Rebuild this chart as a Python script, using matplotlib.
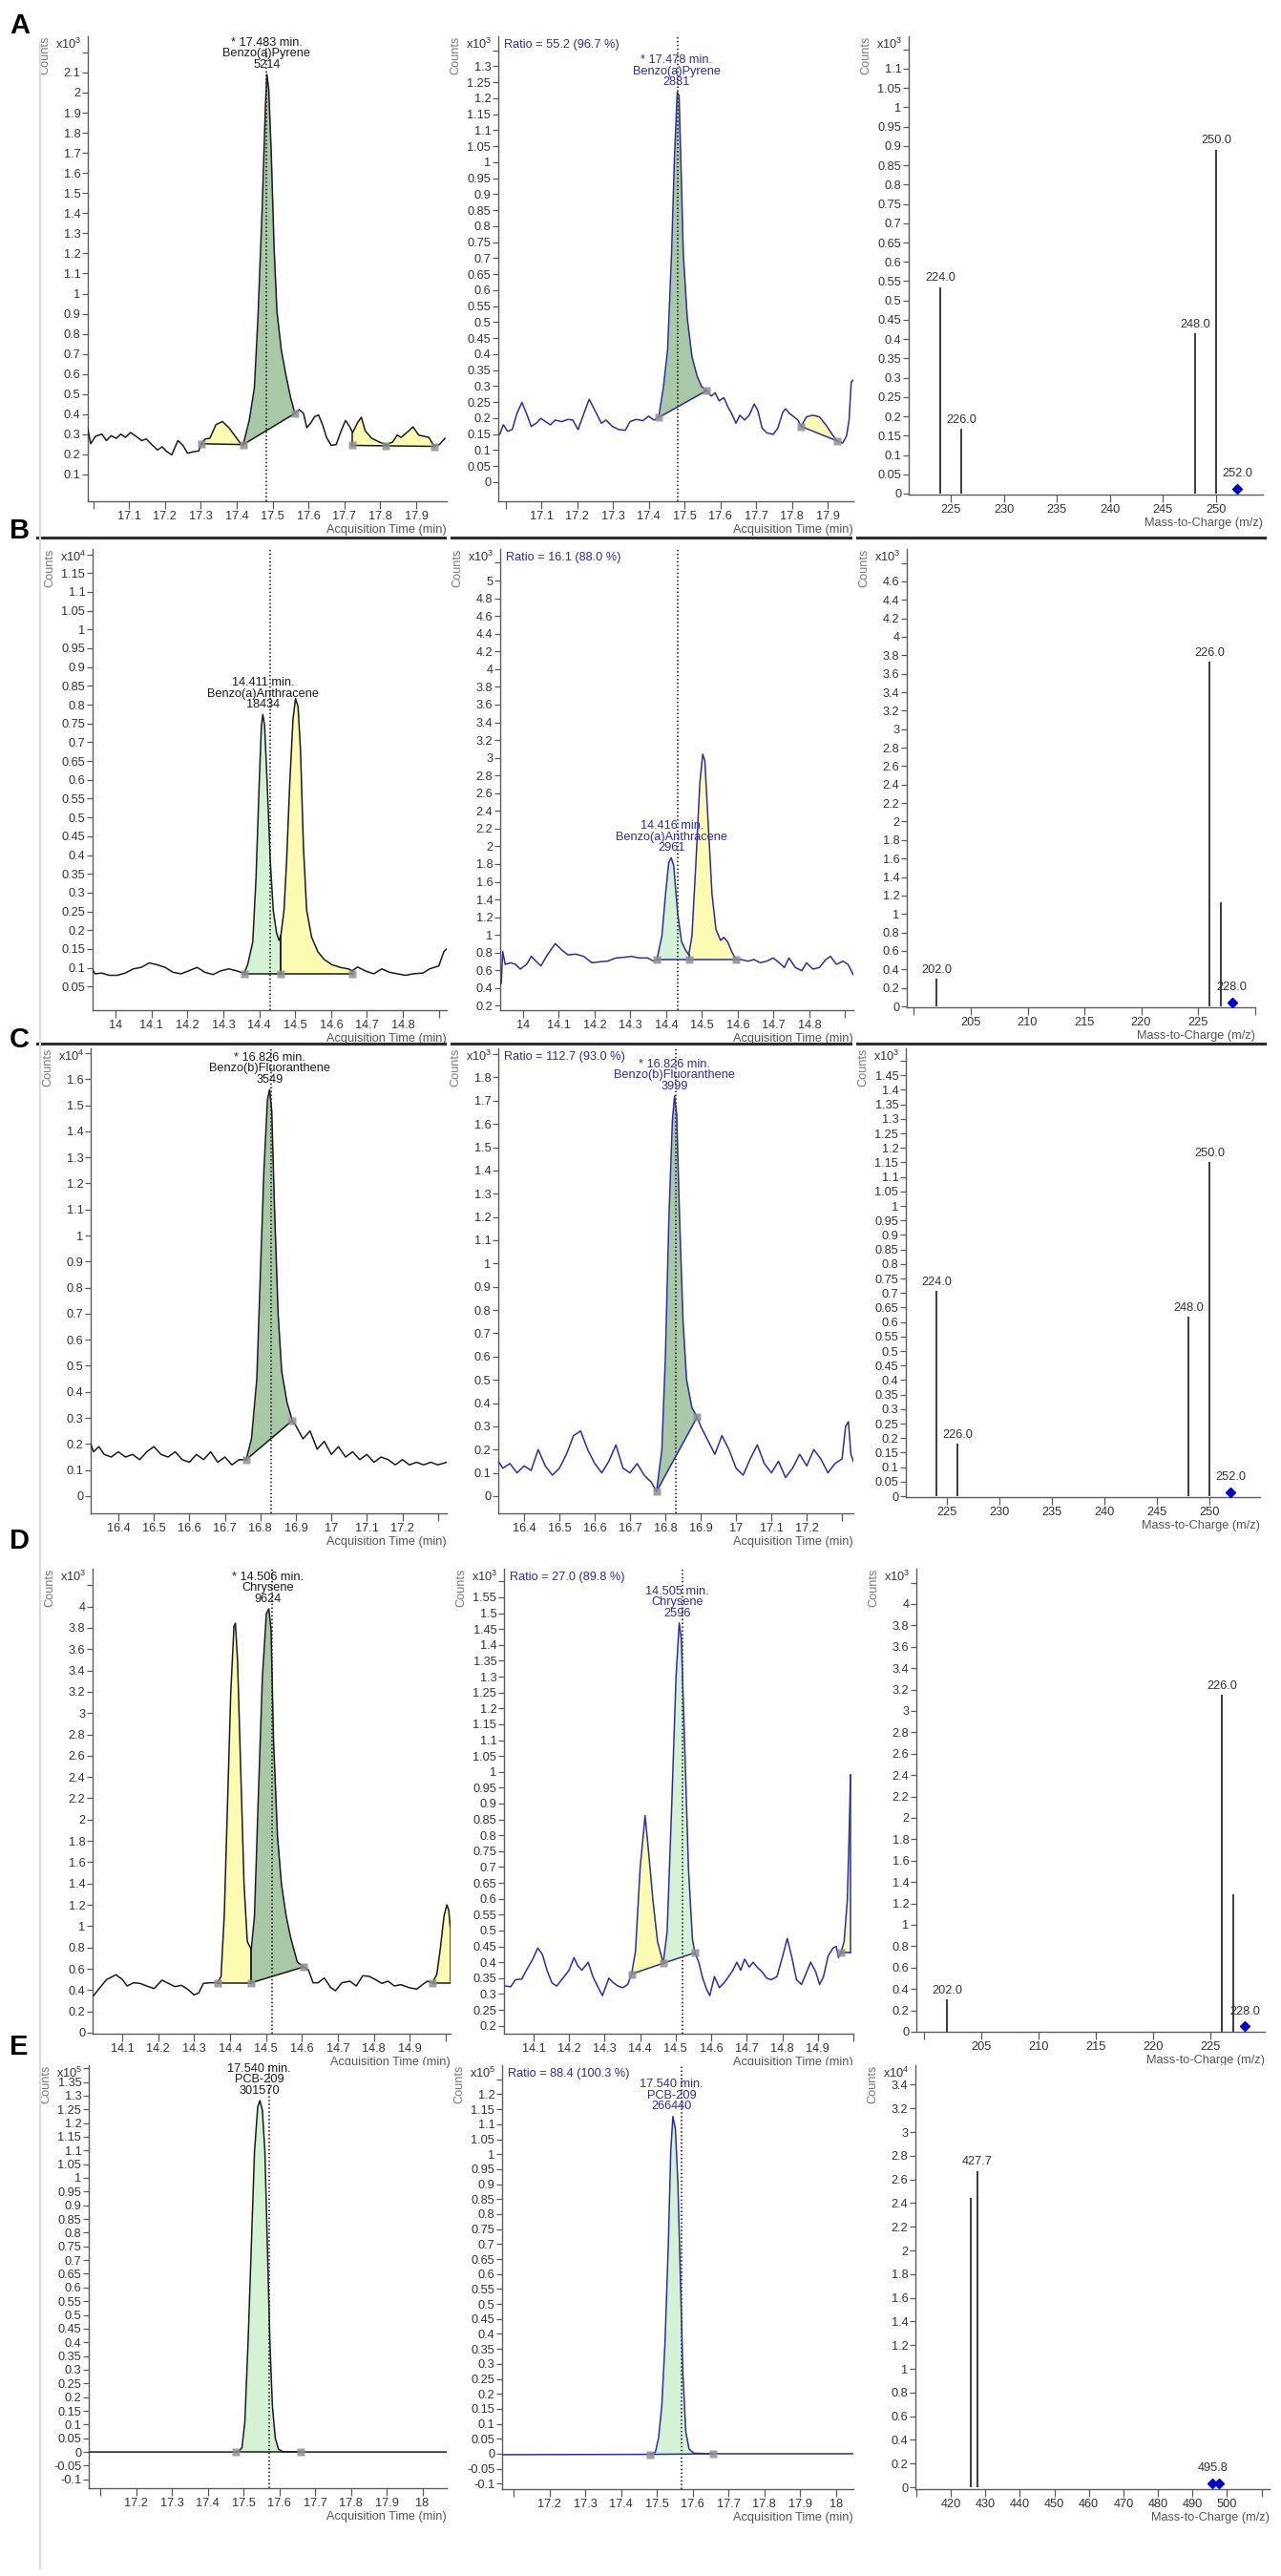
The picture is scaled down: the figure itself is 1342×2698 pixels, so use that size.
import numpy as np
import matplotlib.pyplot as plt
from matplotlib.lines import Line2D

plt.rcParams['font.family'] = ['Liberation Sans', 'DejaVu Sans']
plt.rcParams['mathtext.default'] = 'regular'

W, H = 1342, 2698
FS = 9.2
BLACK = '#1c1c1c'
BLUE = '#2e2ea0'
SAGE = '#a8c8a8'
MINT = '#d6f2d6'
YELLOW = '#fbfbb2'
TXT = '#333333'
AXC = '#5c5c5c'

# ---------------- A: Benzo(a)Pyrene ----------------
a1_trace = [(16.984, 0.333), (16.993, 0.253), (17.006, 0.290), (17.024, 0.301), (17.037, 0.269),
            (17.050, 0.293), (17.064, 0.280), (17.077, 0.301), (17.090, 0.285), (17.104, 0.309),
            (17.117, 0.293), (17.135, 0.269), (17.148, 0.277), (17.161, 0.253), (17.179, 0.222),
            (17.192, 0.238), (17.205, 0.214), (17.219, 0.198), (17.236, 0.269), (17.250, 0.245),
            (17.263, 0.206), (17.281, 0.214), (17.294, 0.217), (17.301, 0.253), (17.312, 0.277),
            (17.325, 0.280), (17.342, 0.348), (17.360, 0.364), (17.378, 0.333), (17.396, 0.290),
            (17.409, 0.258), (17.418, 0.249), (17.435, 0.372), (17.449, 0.530), (17.459, 0.879),
            (17.471, 1.433), (17.480, 1.940), (17.484, 2.090), (17.489, 2.019), (17.496, 1.702),
            (17.504, 1.227), (17.512, 0.911), (17.524, 0.721), (17.537, 0.594), (17.550, 0.483),
            (17.562, 0.404), (17.574, 0.423), (17.586, 0.404), (17.595, 0.333), (17.606, 0.356),
            (17.617, 0.388), (17.628, 0.396), (17.639, 0.348), (17.650, 0.285), (17.663, 0.245),
            (17.677, 0.249), (17.689, 0.309), (17.703, 0.369), (17.714, 0.340), (17.723, 0.309),
            (17.736, 0.356), (17.747, 0.385), (17.758, 0.317), (17.776, 0.280), (17.798, 0.261),
            (17.816, 0.249), (17.834, 0.261), (17.847, 0.296), (17.858, 0.285), (17.879, 0.317),
            (17.891, 0.337), (17.907, 0.296), (17.922, 0.290), (17.935, 0.285), (17.950, 0.240),
            (17.965, 0.250), (17.980, 0.280)]
a1_regions = [(17.301, 17.418, 0.253, 0.249, 'yellow'), (17.418, 17.562, 0.249, 0.404, 'green'),
              (17.723, 17.950, 0.245, 0.240, 'yellow')]
a1_marks = [(17.301, 0.253), (17.418, 0.249), (17.562, 0.404), (17.723, 0.245), (17.816, 0.243), (17.950, 0.240)]
a1_label = '* 17.483 min.\nBenzo(a)Pyrene\n5214'
a1_apex = (17.483, 2.09)
a1_rt = 17.482

a2_trace = [(16.984, 0.149), (16.994, 0.179), (17.006, 0.159), (17.019, 0.164), (17.032, 0.214),
            (17.046, 0.249), (17.059, 0.214), (17.072, 0.174), (17.086, 0.184), (17.099, 0.199),
            (17.112, 0.189), (17.126, 0.179), (17.139, 0.194), (17.157, 0.189), (17.175, 0.196),
            (17.188, 0.194), (17.203, 0.164), (17.219, 0.214), (17.234, 0.259), (17.250, 0.224),
            (17.268, 0.184), (17.281, 0.194), (17.299, 0.174), (17.317, 0.164), (17.335, 0.162),
            (17.348, 0.189), (17.366, 0.196), (17.384, 0.192), (17.400, 0.206), (17.415, 0.194),
            (17.428, 0.202), (17.441, 0.294), (17.453, 0.413), (17.464, 0.711), (17.472, 1.010),
            (17.480, 1.219), (17.485, 1.209), (17.490, 1.010), (17.497, 0.711), (17.508, 0.512),
            (17.521, 0.393), (17.535, 0.333), (17.548, 0.299), (17.562, 0.286), (17.575, 0.269),
            (17.586, 0.279), (17.597, 0.254), (17.610, 0.264), (17.622, 0.234), (17.632, 0.214),
            (17.644, 0.184), (17.655, 0.209), (17.668, 0.194), (17.681, 0.209), (17.695, 0.244),
            (17.705, 0.224), (17.717, 0.169), (17.730, 0.154), (17.748, 0.149), (17.761, 0.169),
            (17.775, 0.219), (17.783, 0.229), (17.794, 0.214), (17.806, 0.204), (17.817, 0.194),
            (17.826, 0.174), (17.841, 0.204), (17.859, 0.209), (17.877, 0.204), (17.895, 0.179),
            (17.913, 0.149), (17.926, 0.129), (17.942, 0.122), (17.953, 0.144), (17.960, 0.194),
            (17.966, 0.313), (17.972, 0.319)]
a2_regions = [(17.428, 17.562, 0.202, 0.286, 'green'), (17.826, 17.926, 0.174, 0.129, 'yellow')]
a2_marks = [(17.428, 0.202), (17.562, 0.286), (17.826, 0.174), (17.926, 0.129)]
a2_label = '* 17.478 min.\nBenzo(a)Pyrene\n2881'
a2_apex = (17.478, 1.219)
a2_rt = 17.481
a2_ratio = 'Ratio = 55.2 (96.7 %)'

a3_mz = [224.0, 226.0, 248.0, 250.0]
a3_counts = [0.534, 0.168, 0.415, 0.890]
a3_labeled = [True, True, True, True]
a3_ref_mz = [252.0]
a3_ref_counts = [0.012]
a3_ref_label = '252.0'

# ---------------- B: Benzo(a)Anthracene ----------------
b1_trace = [(13.934, 0.097), (13.943, 0.084), (13.961, 0.086), (13.983, 0.080), (14.005, 0.080),
            (14.027, 0.086), (14.049, 0.097), (14.071, 0.101), (14.094, 0.113), (14.116, 0.108),
            (14.138, 0.101), (14.160, 0.088), (14.182, 0.084), (14.204, 0.092), (14.227, 0.101),
            (14.249, 0.088), (14.271, 0.082), (14.293, 0.092), (14.315, 0.097), (14.337, 0.092),
            (14.358, 0.085), (14.368, 0.109), (14.382, 0.169), (14.391, 0.338), (14.400, 0.592),
            (14.406, 0.744), (14.410, 0.774), (14.415, 0.744), (14.422, 0.592), (14.431, 0.380),
            (14.439, 0.253), (14.448, 0.194), (14.455, 0.173), (14.460, 0.185), (14.469, 0.253),
            (14.476, 0.380), (14.485, 0.592), (14.494, 0.761), (14.501, 0.816), (14.508, 0.795),
            (14.515, 0.677), (14.523, 0.423), (14.532, 0.253), (14.546, 0.181), (14.563, 0.143),
            (14.581, 0.122), (14.603, 0.108), (14.626, 0.101), (14.648, 0.097), (14.659, 0.092),
            (14.674, 0.102), (14.697, 0.091), (14.719, 0.084), (14.741, 0.097), (14.763, 0.088),
            (14.785, 0.084), (14.807, 0.080), (14.829, 0.084), (14.856, 0.086), (14.874, 0.097),
            (14.900, 0.105), (14.914, 0.143), (14.922, 0.150)]
b1_regions = [(14.358, 14.460, 0.085, 0.085, 'green'), (14.460, 14.659, 0.085, 0.085, 'yellow')]
b1_marks = [(14.358, 0.085), (14.460, 0.085), (14.659, 0.085)]
b1_label = '14.411 min.\nBenzo(a)Anthracene\n18434'
b1_apex = (14.411, 0.774)
b1_rt = 14.430

b2_trace = [(13.939, 0.453), (13.943, 0.812), (13.950, 0.668), (13.965, 0.686), (13.979, 0.668),
            (13.992, 0.614), (14.010, 0.668), (14.023, 0.758), (14.036, 0.704), (14.050, 0.650),
            (14.068, 0.776), (14.090, 0.902), (14.108, 0.830), (14.125, 0.776), (14.148, 0.783),
            (14.170, 0.758), (14.192, 0.686), (14.214, 0.697), (14.236, 0.704), (14.259, 0.740),
            (14.281, 0.747), (14.303, 0.758), (14.325, 0.740), (14.348, 0.740), (14.365, 0.704),
            (14.374, 0.722), (14.388, 0.991), (14.398, 1.458), (14.407, 1.818), (14.414, 1.871),
            (14.421, 1.782), (14.432, 1.243), (14.443, 0.920), (14.454, 0.830), (14.463, 0.776),
            (14.472, 0.991), (14.483, 1.818), (14.494, 2.716), (14.502, 3.039), (14.508, 2.967),
            (14.516, 2.356), (14.528, 1.458), (14.539, 1.063), (14.552, 0.938), (14.561, 0.973),
            (14.572, 0.920), (14.583, 0.812), (14.595, 0.722), (14.610, 0.722), (14.628, 0.704),
            (14.645, 0.722), (14.663, 0.686), (14.681, 0.704), (14.699, 0.740), (14.716, 0.686),
            (14.730, 0.632), (14.743, 0.740), (14.761, 0.632), (14.779, 0.596), (14.792, 0.686),
            (14.810, 0.614), (14.828, 0.632), (14.846, 0.722), (14.859, 0.758), (14.876, 0.668),
            (14.894, 0.704), (14.908, 0.668), (14.923, 0.550)]
b2_regions = [(14.374, 14.463, 0.722, 0.722, 'green'), (14.463, 14.595, 0.722, 0.722, 'yellow')]
b2_marks = [(14.374, 0.722), (14.463, 0.722), (14.595, 0.722)]
b2_label = '14.416 min.\nBenzo(a)Anthracene\n2961'
b2_apex = (14.416, 1.871)
b2_rt = 14.432
b2_ratio = 'Ratio = 16.1 (88.0 %)'

b3_mz = [202.0, 226.0, 227.0]
b3_counts = [0.30, 3.73, 1.13]
b3_labeled = [True, True, False]
b3_ref_mz = [228.0]
b3_ref_counts = [0.04]
b3_ref_label = '228.0'

# ---------------- C: Benzo(b)Fluoranthene ----------------
c1_trace = [(16.322, 0.20), (16.330, 0.17), (16.345, 0.19), (16.360, 0.16), (16.380, 0.15),
            (16.400, 0.17), (16.420, 0.15), (16.440, 0.16), (16.460, 0.14), (16.480, 0.17),
            (16.500, 0.19), (16.520, 0.16), (16.540, 0.15), (16.560, 0.17), (16.580, 0.14),
            (16.600, 0.13), (16.620, 0.16), (16.640, 0.14), (16.660, 0.17), (16.680, 0.13),
            (16.700, 0.15), (16.720, 0.12), (16.740, 0.14), (16.760, 0.14), (16.775, 0.22),
            (16.790, 0.45), (16.800, 0.85), (16.810, 1.25), (16.820, 1.52), (16.826, 1.56),
            (16.832, 1.48), (16.840, 1.10), (16.850, 0.70), (16.860, 0.48), (16.875, 0.36),
            (16.890, 0.29), (16.900, 0.27), (16.920, 0.22), (16.940, 0.25), (16.960, 0.18),
            (16.980, 0.21), (17.000, 0.16), (17.020, 0.19), (17.040, 0.15), (17.060, 0.17),
            (17.080, 0.14), (17.100, 0.16), (17.120, 0.13), (17.140, 0.15), (17.160, 0.14),
            (17.180, 0.12), (17.200, 0.14), (17.220, 0.12), (17.240, 0.13), (17.260, 0.12),
            (17.280, 0.13), (17.300, 0.12), (17.325, 0.13)]
c1_regions = [(16.760, 16.890, 0.14, 0.29, 'green')]
c1_marks = [(16.760, 0.14), (16.890, 0.29)]
c1_label = '* 16.826 min.\nBenzo(b)Fluoranthene\n3549'
c1_apex = (16.826, 1.56)
c1_rt = 16.830

c2_trace = [(16.327, 0.15), (16.340, 0.12), (16.360, 0.14), (16.380, 0.10), (16.400, 0.13),
            (16.420, 0.11), (16.440, 0.20), (16.460, 0.13), (16.480, 0.09), (16.500, 0.12),
            (16.520, 0.18), (16.540, 0.26), (16.560, 0.28), (16.580, 0.20), (16.600, 0.14),
            (16.620, 0.10), (16.640, 0.15), (16.660, 0.22), (16.680, 0.12), (16.700, 0.10),
            (16.720, 0.14), (16.740, 0.09), (16.760, 0.06), (16.775, 0.02), (16.790, 0.20),
            (16.800, 0.60), (16.810, 1.20), (16.820, 1.62), (16.826, 1.72), (16.832, 1.64),
            (16.840, 1.20), (16.850, 0.75), (16.860, 0.50), (16.875, 0.38), (16.890, 0.34),
            (16.900, 0.30), (16.920, 0.24), (16.940, 0.18), (16.960, 0.26), (16.980, 0.20),
            (17.000, 0.12), (17.020, 0.09), (17.040, 0.16), (17.060, 0.22), (17.080, 0.14),
            (17.100, 0.10), (17.120, 0.15), (17.140, 0.08), (17.160, 0.12), (17.180, 0.18),
            (17.200, 0.13), (17.220, 0.20), (17.240, 0.16), (17.260, 0.10), (17.280, 0.14),
            (17.300, 0.16), (17.310, 0.30), (17.318, 0.32), (17.325, 0.18), (17.332, 0.15)]
c2_regions = [(16.775, 16.890, 0.02, 0.34, 'green')]
c2_marks = [(16.775, 0.02), (16.890, 0.34)]
c2_label = '* 16.826 min.\nBenzo(b)Fluoranthene\n3999'
c2_apex = (16.826, 1.72)
c2_rt = 16.830
c2_ratio = 'Ratio = 112.7 (93.0 %)'

c3_mz = [224.0, 226.0, 248.0, 250.0]
c3_counts = [0.707, 0.180, 0.618, 1.150]
c3_labeled = [True, True, True, True]
c3_ref_mz = [252.0]
c3_ref_counts = [0.015]
c3_ref_label = '252.0'

# ---------------- D: Chrysene ----------------
d1_trace = [(14.021, 0.349), (14.035, 0.409), (14.057, 0.499), (14.083, 0.544), (14.101, 0.499),
            (14.114, 0.439), (14.132, 0.469), (14.150, 0.463), (14.168, 0.439), (14.189, 0.415),
            (14.211, 0.493), (14.229, 0.463), (14.247, 0.433), (14.265, 0.445), (14.282, 0.409),
            (14.300, 0.355), (14.313, 0.373), (14.326, 0.463), (14.344, 0.469), (14.366, 0.469),
            (14.375, 0.529), (14.384, 1.096), (14.393, 2.142), (14.402, 3.187), (14.411, 3.814),
            (14.415, 3.844), (14.421, 3.486), (14.430, 2.440), (14.439, 1.395), (14.448, 0.857),
            (14.459, 0.783), (14.468, 1.096), (14.478, 2.142), (14.490, 3.336), (14.501, 3.934),
            (14.508, 3.978), (14.514, 3.784), (14.521, 2.739), (14.532, 1.843), (14.543, 1.395),
            (14.556, 1.096), (14.569, 0.887), (14.587, 0.663), (14.605, 0.618), (14.618, 0.588),
            (14.631, 0.469), (14.645, 0.469), (14.662, 0.514), (14.680, 0.424), (14.693, 0.394),
            (14.711, 0.469), (14.733, 0.484), (14.751, 0.439), (14.769, 0.535), (14.787, 0.529),
            (14.804, 0.499), (14.822, 0.463), (14.839, 0.484), (14.857, 0.439), (14.875, 0.451),
            (14.897, 0.424), (14.919, 0.409), (14.936, 0.454), (14.949, 0.484), (14.963, 0.469),
            (14.975, 0.550), (14.985, 0.800), (14.995, 1.100), (15.003, 1.200), (15.008, 1.150),
            (15.012, 1.000)]
d1_regions = [(14.366, 14.459, 0.469, 0.469, 'yellow'), (14.459, 14.605, 0.469, 0.618, 'green'),
              (14.963, 15.012, 0.469, 0.469, 'yellow')]
d1_marks = [(14.366, 0.469), (14.459, 0.469), (14.605, 0.618), (14.963, 0.469)]
d1_label = '* 14.506 min.\nChrysene\n9624'
d1_apex = (14.506, 3.978)
d1_rt = 14.518

d2_trace = [(14.021, 0.325), (14.036, 0.323), (14.049, 0.345), (14.067, 0.347), (14.080, 0.375),
            (14.098, 0.410), (14.112, 0.445), (14.125, 0.425), (14.138, 0.375), (14.152, 0.335),
            (14.165, 0.325), (14.183, 0.350), (14.200, 0.375), (14.214, 0.415), (14.224, 0.390),
            (14.236, 0.375), (14.254, 0.400), (14.267, 0.355), (14.280, 0.325), (14.294, 0.295),
            (14.312, 0.350), (14.325, 0.335), (14.338, 0.325), (14.351, 0.320), (14.365, 0.330),
            (14.376, 0.363), (14.387, 0.435), (14.400, 0.696), (14.414, 0.862), (14.424, 0.746),
            (14.436, 0.596), (14.449, 0.465), (14.465, 0.397), (14.476, 0.496), (14.489, 0.897),
            (14.501, 1.298), (14.510, 1.469), (14.516, 1.418), (14.525, 1.097), (14.536, 0.696),
            (14.547, 0.475), (14.554, 0.430), (14.565, 0.400), (14.576, 0.350), (14.587, 0.315),
            (14.596, 0.295), (14.609, 0.355), (14.623, 0.320), (14.636, 0.335), (14.649, 0.355),
            (14.661, 0.375), (14.672, 0.400), (14.683, 0.375), (14.694, 0.410), (14.707, 0.385),
            (14.718, 0.400), (14.729, 0.385), (14.743, 0.370), (14.756, 0.350), (14.769, 0.345),
            (14.785, 0.355), (14.800, 0.415), (14.814, 0.475), (14.827, 0.415), (14.840, 0.345),
            (14.854, 0.330), (14.867, 0.365), (14.880, 0.400), (14.894, 0.370), (14.905, 0.330),
            (14.916, 0.355), (14.929, 0.420), (14.943, 0.445), (14.952, 0.450), (14.958, 0.415),
            (14.965, 0.430), (14.974, 0.465), (14.983, 0.596), (14.988, 0.800), (14.992, 0.990)]
d2_regions = [(14.376, 14.465, 0.363, 0.397, 'yellow'), (14.465, 14.554, 0.397, 0.430, 'green'),
              (14.965, 14.992, 0.430, 0.430, 'yellow')]
d2_marks = [(14.376, 0.363), (14.465, 0.397), (14.554, 0.430), (14.965, 0.430)]
d2_label = '14.505 min.\nChrysene\n2596'
d2_apex = (14.505, 1.469)
d2_rt = 14.520
d2_ratio = 'Ratio = 27.0 (89.8 %)'

d3_mz = [202.0, 226.0, 227.0]
d3_counts = [0.30, 3.15, 1.29]
d3_labeled = [True, True, False]
d3_ref_mz = [228.0]
d3_ref_counts = [0.05]
d3_ref_label = '228.0'

# ---------------- E: PCB-209 ----------------
e1_trace = [(17.068, 0.0), (17.478, 0.0), (17.487, 0.002), (17.496, 0.016), (17.504, 0.109),
            (17.513, 0.400), (17.522, 0.748), (17.531, 1.096), (17.540, 1.259), (17.546, 1.282),
            (17.553, 1.247), (17.560, 1.096), (17.567, 0.748), (17.574, 0.400), (17.581, 0.167),
            (17.589, 0.051), (17.598, 0.010), (17.611, 0.001), (17.660, 0.0), (18.068, 0.0)]
e1_regions = [(17.478, 17.660, 0.0, 0.0, 'green')]
e1_marks = [(17.478, 0.0), (17.660, 0.0)]
e1_label = '17.540 min.\nPCB-209\n301570'
e1_apex = (17.544, 1.282)
e1_rt = 17.572

e2_trace = [(17.068, -0.003), (17.481, -0.002), (17.496, 0.005), (17.505, 0.053), (17.514, 0.159),
            (17.523, 0.372), (17.532, 0.690), (17.539, 1.009), (17.545, 1.126), (17.552, 1.084),
            (17.559, 0.903), (17.566, 0.584), (17.573, 0.266), (17.581, 0.074), (17.590, 0.016),
            (17.603, 0.002), (17.657, 0.0), (18.050, 0.0)]
e2_regions = [(17.481, 17.657, -0.002, 0.0, 'green')]
e2_marks = [(17.481, -0.002), (17.657, 0.0)]
e2_label = '17.540 min.\nPCB-209\n266440'
e2_apex = (17.542, 1.126)
e2_rt = 17.570
e2_ratio = 'Ratio = 88.4 (100.3 %)'

e3_mz = [425.7, 427.7]
e3_counts = [2.44, 2.67]
e3_labeled = [False, True]
e3_ref_mz = [495.8, 497.6]
e3_ref_counts = [0.035, 0.035]
e3_ref_label = '495.8'

fig = plt.figure(figsize=(W / 100, H / 100), dpi=100)


def make_ax(rect):
    l, t, r, b = rect
    return fig.add_axes([l / W, 1 - b / H, (r - l) / W, (b - t) / H])


def fmt_y(v):
    s = f'{round(v, 2) + 0.0:.2f}'.rstrip('0').rstrip('.')
    return '0' if s in ('-0', '') else s


def frame(ax, rect, xlim, ylim, xticks, yticks, ytop, expo, xlabel):
    ax.set_xlim(xlim)
    ax.set_ylim(ylim)
    for s in ('top', 'right'):
        ax.spines[s].set_visible(False)
    for s in ('left', 'bottom'):
        ax.spines[s].set_color(AXC)
        ax.spines[s].set_linewidth(1.0)
    wpx = rect[2] - rect[0]
    xl = []
    for v in xticks:
        p = (v - xlim[0]) / (xlim[1] - xlim[0]) * wpx
        xl.append('' if (p < 16 or wpx - p < 14) else f'{round(v, 1):g}')
    ax.set_xticks(xticks)
    ax.set_xticklabels(xl)
    yt = list(yticks)
    yl = [fmt_y(v) for v in yt]
    if ytop is not None:
        yt.append(ytop)
        yl.append('')
    ax.set_yticks(yt)
    ax.set_yticklabels(yl)
    ax.tick_params(axis='y', direction='out', length=4, width=0.9, pad=1.5,
                   labelsize=FS, color=AXC, labelcolor=TXT)
    ax.tick_params(axis='x', direction='out', length=6, width=0.9, pad=1.5,
                   labelsize=FS, color=AXC, labelcolor=TXT)
    ax.set_xlabel(xlabel, loc='right', fontsize=FS, color='#555555', labelpad=1)
    ax.annotate(f'x10$^{{{expo}}}$', xy=(0, 1), xycoords='axes fraction', xytext=(-7, -8),
                textcoords='offset pixels', ha='right', va='center', fontsize=FS, color=TXT)
    ax.annotate('Counts', xy=(0, 1), xycoords='axes fraction', xytext=(-45, 0),
                textcoords='offset pixels', rotation=90, ha='center', va='top',
                fontsize=FS, color='#7a7a7a')


def chrom(ax, trace, color, regions, green, marks, rt, apex, label, ratio=None):
    t = np.array([p[0] for p in trace])
    y = np.array([p[1] for p in trace])
    for t0, t1, b0, b1, kind in regions:
        fc = YELLOW if kind == 'yellow' else green
        inside = (t > t0) & (t < t1)
        ts = np.concatenate([[t0], t[inside], [t1]])
        ys = np.concatenate([[np.interp(t0, t, y)], y[inside], [np.interp(t1, t, y)]])
        base = b0 + (b1 - b0) * (ts - t0) / (t1 - t0)
        ax.fill_between(ts, ys, base, color=fc, lw=0, zorder=1)
        ax.plot([t0, t1], [b0, b1], color=color, lw=1.1, zorder=3)
        ax.plot([t0, t0], [b0, ys[0]], color=color, lw=1.1, zorder=3)
        ax.plot([t1, t1], [b1, ys[-1]], color=color, lw=1.1, zorder=3)
    ax.axvline(rt, color='#111111', lw=1.1, ls=(0, (1, 1.6)), zorder=2)
    ax.plot(t, y, color=color, lw=1.1, zorder=4)
    ax.plot([m[0] for m in marks], [m[1] for m in marks], 's', ms=5.5, color='#8f8f8f',
            mec='none', alpha=0.85, zorder=5)
    ax.annotate(label, xy=apex, xytext=(0, 3), textcoords='offset points', ha='center',
                va='bottom', fontsize=FS, color=color, linespacing=0.95, zorder=6)
    if ratio:
        ax.annotate(ratio, xy=(0, 1), xycoords='axes fraction', xytext=(6, -9),
                    textcoords='offset pixels', ha='left', va='center', fontsize=FS, color=BLUE)


def spectrum(ax, mz, counts, labeled, ref_mz, ref_counts, ref_label):
    ax.vlines(mz, 0, counts, color='#3c3c3c', lw=1.4, zorder=3)
    for m, c, lab in zip(mz, counts, labeled):
        if lab:
            ax.annotate(f'{m:.1f}', (m, c), xytext=(0, 2.5), textcoords='offset points',
                        ha='center', va='bottom', fontsize=FS, color=TXT)
    ax.plot(ref_mz, ref_counts, 'D', ms=5.5, color='#0000cc', zorder=4, clip_on=False)
    ax.annotate(ref_label, (ref_mz[0], ref_counts[0]), xytext=(0, 7), textcoords='offset points',
                ha='center', va='bottom', fontsize=FS, color=TXT)


AT = 'Acquisition Time (min)'
MZ = 'Mass-to-Charge (m/z)'

rows = [
    dict(c1=(a1_trace, a1_regions, SAGE, a1_marks, a1_rt, a1_apex, a1_label),
         c2=(a2_trace, a2_regions, SAGE, a2_marks, a2_rt, a2_apex, a2_label, a2_ratio),
         c3=(a3_mz, a3_counts, a3_labeled, a3_ref_mz, a3_ref_counts, a3_ref_label),
         r1=(92, 38, 468, 525), r2=(522, 38, 894, 525), r3=(952, 38, 1323, 518),
         x1=(16.985, 17.985), x2=(16.980, 17.972), x3=(221.05, 254.4),
         y1=(-0.033, 2.28), y2=(-0.06, 1.394), y3=(-0.0025, 1.184),
         xt=np.arange(17.0, 17.95, 0.1), xt3=np.arange(225, 251, 5),
         yt1=(np.arange(0.1, 2.15, 0.1), 2.2, 3), yt2=(np.arange(0, 1.301, 0.05), 1.35, 3),
         yt3=(np.arange(0, 1.101, 0.05), 1.15, 3)),
    dict(c1=(b1_trace, b1_regions, MINT, b1_marks, b1_rt, b1_apex, b1_label),
         c2=(b2_trace, b2_regions, MINT, b2_marks, b2_rt, b2_apex, b2_label, b2_ratio),
         c3=(b3_mz, b3_counts, b3_labeled, b3_ref_mz, b3_ref_counts, b3_ref_label),
         r1=(97, 575, 468, 1058), r2=(524, 575, 894, 1058), r3=(950, 575, 1315, 1055),
         x1=(13.936, 14.922), x2=(13.936, 14.923), x3=(199.37, 230.04),
         y1=(-0.0127, 1.214), y2=(0.151, 5.356), y3=(-0.01, 4.95),
         xt=np.arange(14.0, 14.95, 0.1), xt3=np.arange(200, 231, 5),
         yt1=(np.arange(0.05, 1.151, 0.05), 1.2, 4), yt2=(np.arange(0.2, 5.01, 0.2), 5.2, 3),
         yt3=(np.arange(0, 4.61, 0.2), 4.8, 3)),
    dict(c1=(c1_trace, c1_regions, SAGE, c1_marks, c1_rt, c1_apex, c1_label),
         c2=(c2_trace, c2_regions, SAGE, c2_marks, c2_rt, c2_apex, c2_label, c2_ratio),
         c3=(c3_mz, c3_counts, c3_labeled, c3_ref_mz, c3_ref_counts, c3_ref_label),
         r1=(95, 1098, 468, 1585), r2=(522, 1098, 894, 1585), r3=(949, 1098, 1320, 1568),
         x1=(16.322, 17.325), x2=(16.327, 17.332), x3=(221.1, 254.8),
         y1=(-0.066, 1.718), y2=(-0.074, 1.925), y3=(-0.003, 1.543),
         xt=np.arange(16.4, 17.35, 0.1), xt3=np.arange(225, 251, 5),
         yt1=(np.arange(0, 1.61, 0.1), 1.7, 4), yt2=(np.arange(0, 1.81, 0.1), 1.9, 3),
         yt3=(np.arange(0, 1.451, 0.05), 1.5, 3)),
    dict(c1=(d1_trace, d1_regions, SAGE, d1_marks, d1_rt, d1_apex, d1_label),
         c2=(d2_trace, d2_regions, MINT, d2_marks, d2_rt, d2_apex, d2_label, d2_ratio),
         c3=(d3_mz, d3_counts, d3_labeled, d3_ref_mz, d3_ref_counts, d3_ref_label),
         r1=(97, 1643, 472, 2130), r2=(528, 1643, 894, 2130), r3=(960, 1643, 1325, 2128),
         x1=(14.018, 15.013), x2=(14.017, 14.993), x3=(199.33, 229.75),
         y1=(-0.009, 4.355), y2=(0.175, 1.64), y3=(0.0, 4.33),
         xt=np.arange(14.1, 15.05, 0.1), xt3=np.arange(200, 226, 5),
         yt1=(np.arange(0, 4.01, 0.2), 4.2, 3), yt2=(np.arange(0.2, 1.551, 0.05), 1.6, 3),
         yt3=(np.arange(0, 4.01, 0.2), 4.2, 3)),
    dict(c1=(e1_trace, e1_regions, MINT, e1_marks, e1_rt, e1_apex, e1_label),
         c2=(e2_trace, e2_regions, MINT, e2_marks, e2_rt, e2_apex, e2_label, e2_ratio),
         c3=(e3_mz, e3_counts, e3_labeled, e3_ref_mz, e3_ref_counts, e3_ref_label),
         r1=(93, 2163, 468, 2606), r2=(526, 2163, 894, 2607), r3=(959, 2163, 1330, 2607),
         x1=(17.068, 18.068), x2=(17.068, 18.049), x3=(409.8, 512.3),
         y1=(-0.132, 1.411), y2=(-0.118, 1.297), y3=(-0.016, 3.565),
         xt=np.arange(17.1, 18.05, 0.1), xt3=np.arange(410, 511, 10),
         yt1=(np.arange(-0.1, 1.351, 0.05), 1.4, 5), yt2=(np.arange(-0.1, 1.201, 0.05), 1.25, 5),
         yt3=(np.arange(0, 3.41, 0.2), None, 4)),
]

for row in rows:
    ax1 = make_ax(row['r1'])
    frame(ax1, row['r1'], row['x1'], row['y1'], row['xt'], *row['yt1'], AT)
    tr, rg, gc, mk, rt, ap, lb = row['c1']
    chrom(ax1, tr, BLACK, rg, gc, mk, rt, ap, lb)

    ax2 = make_ax(row['r2'])
    frame(ax2, row['r2'], row['x2'], row['y2'], row['xt'], *row['yt2'], AT)
    tr, rg, gc, mk, rt, ap, lb, ratio = row['c2']
    chrom(ax2, tr, BLUE, rg, gc, mk, rt, ap, lb, ratio)

    ax3 = make_ax(row['r3'])
    frame(ax3, row['r3'], row['x3'], row['y3'], row['xt3'], *row['yt3'], MZ)
    spectrum(ax3, *row['c3'])

# panel letters
for letter, top in zip('ABCDE', (13, 542, 1075, 1600, 2130)):
    fig.text(10 / W, 1 - top / H, letter, fontsize=21, fontweight='bold', va='top', ha='left',
             family=['Liberation Sans', 'DejaVu Sans'])

# screenshot borders between the first rows
for yy in (563, 1093):
    for x0, x1 in ((39, 466), (473, 891), (898, 1325)):
        fig.add_artist(Line2D([x0 / W, x1 / W], [1 - yy / H, 1 - yy / H], color='#2e2e2e', lw=2.2))
fig.add_artist(Line2D([42 / W, 42 / W], [1 - 45 / H, 1 - 2690 / H], color='#dcdcdc', lw=1.5))

fig.savefig('out.png', dpi=100)
